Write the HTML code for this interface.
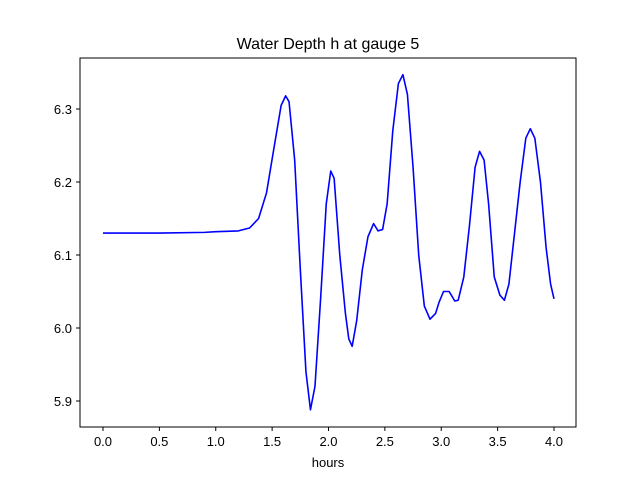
<!DOCTYPE html>
<html><head><meta charset="utf-8">
<style>
body{margin:0;background:#fff;}
svg{display:block;font-family:"Liberation Sans","DejaVu Sans",sans-serif;}
</style></head>
<body>
<svg id="chart" width="640" height="480">
<rect x="0" y="0" width="640" height="480" fill="#fff"/>
<text x="328" y="49" font-size="16" text-anchor="middle">Water Depth h at gauge 5</text>
<g id="axes"></g>
<polyline id="series" fill="none" stroke="#0000ff" stroke-width="1.6" stroke-linejoin="round"/>
<rect x="80" y="58" width="496" height="369" fill="none" stroke="#000" stroke-width="1"/>
<text x="328" y="467" font-size="13" text-anchor="middle">hours</text>
</svg>
<script>
const hours=[0,0.5,0.9,1.0,1.2,1.3,1.38,1.45,1.52,1.58,1.62,1.65,1.7,1.75,1.8,1.84,1.88,1.93,1.98,2.02,2.05,2.1,2.15,2.18,2.21,2.25,2.3,2.35,2.4,2.44,2.48,2.52,2.57,2.62,2.66,2.7,2.75,2.8,2.85,2.9,2.95,2.98,3.02,3.07,3.12,3.15,3.2,3.25,3.3,3.34,3.38,3.42,3.47,3.52,3.56,3.6,3.65,3.7,3.75,3.79,3.83,3.88,3.93,3.97,4.0];
const depth=[6.130,6.130,6.131,6.132,6.133,6.137,6.150,6.185,6.25,6.305,6.318,6.31,6.23,6.08,5.94,5.888,5.92,6.04,6.17,6.215,6.205,6.1,6.02,5.985,5.975,6.01,6.08,6.125,6.143,6.133,6.135,6.17,6.27,6.335,6.347,6.32,6.22,6.1,6.03,6.012,6.02,6.035,6.05,6.05,6.037,6.038,6.07,6.14,6.22,6.242,6.23,6.17,6.07,6.045,6.038,6.06,6.13,6.2,6.26,6.273,6.26,6.2,6.11,6.06,6.04];
const xTicks=[0,0.5,1.0,1.5,2.0,2.5,3.0,3.5,4.0];
const yTicks=[5.9,6.0,6.1,6.2,6.3];
function xs(v){return 103+v*112.75;}
function ys(v){return 401-(v-5.9)*730;}
const NS="http://www.w3.org/2000/svg";
const ax=document.getElementById('axes');
xTicks.forEach(t=>{
  const l=document.createElementNS(NS,'line');
  l.setAttribute('x1',xs(t));l.setAttribute('x2',xs(t));l.setAttribute('y1',427);l.setAttribute('y2',431);l.setAttribute('stroke','#000');
  
  
  ax.appendChild(l);
  const tx=document.createElementNS(NS,'text');
  tx.setAttribute('x',xs(t));tx.setAttribute('y',446);tx.setAttribute('font-size','13');tx.setAttribute('text-anchor','middle');
  tx.textContent=t.toFixed(1);
  
  
  ax.appendChild(tx);
});
yTicks.forEach(t=>{
  const l=document.createElementNS(NS,'line');
  l.setAttribute('x1',76);l.setAttribute('x2',80);l.setAttribute('y1',ys(t));l.setAttribute('y2',ys(t));l.setAttribute('stroke','#000');
  
  
  ax.appendChild(l);
  const tx=document.createElementNS(NS,'text');
  tx.setAttribute('x',72);tx.setAttribute('y',ys(t)+5);tx.setAttribute('font-size','13');tx.setAttribute('text-anchor','end');
  tx.textContent=t.toFixed(1);
  
  
  ax.appendChild(tx);
});
document.getElementById('series').setAttribute('points',hours.map((h,i)=>xs(h)+','+ys(depth[i])).join(' '));
</script>
</body></html>
